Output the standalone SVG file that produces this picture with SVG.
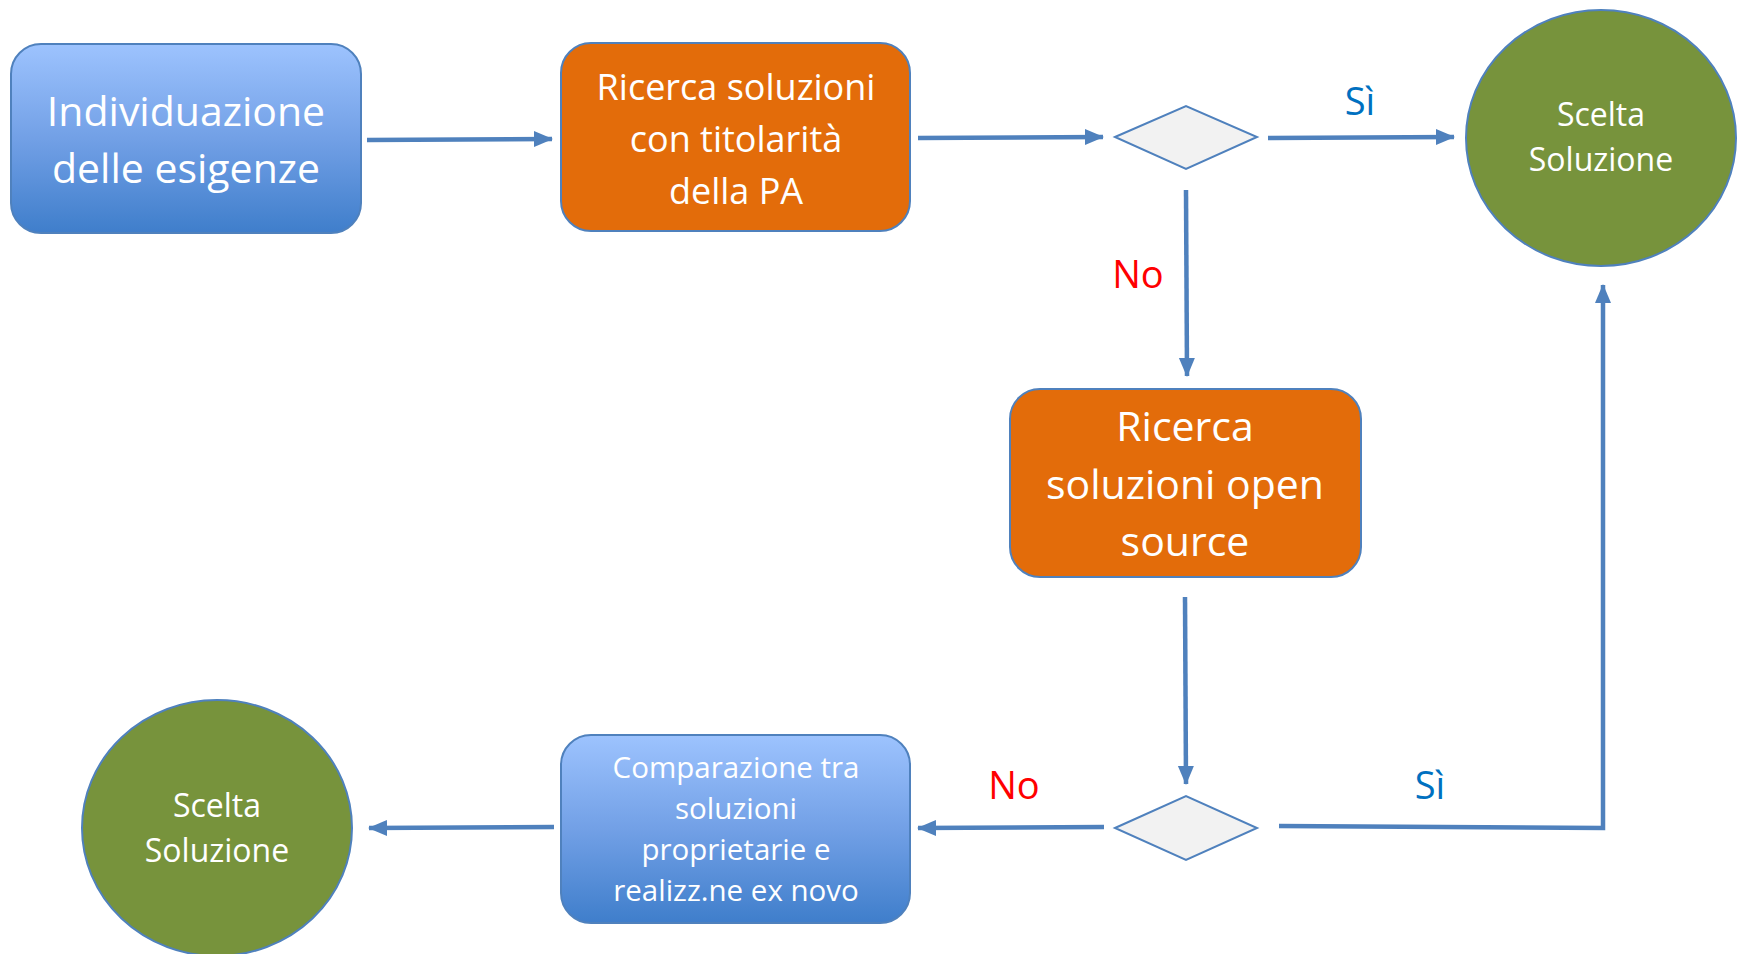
<svg xmlns="http://www.w3.org/2000/svg" width="1743" height="954" viewBox="0 0 1743 954">
<defs>
<linearGradient id="blueGrad" x1="0" y1="0" x2="0" y2="1">
<stop offset="0" stop-color="#9DC3FE"/>
<stop offset="0.5" stop-color="#72A0E6"/>
<stop offset="1" stop-color="#3F7ECB"/>
</linearGradient>
<marker id="arr" markerUnits="userSpaceOnUse" markerWidth="20" markerHeight="18" refX="18" refY="9" orient="auto">
<path d="M0,1 L19,9 L0,17 Z" fill="#4F81BD"/>
</marker>
<style>
.box{stroke:#4F81BD;stroke-width:2}
.blue{fill:url(#blueGrad)}
.orange{fill:#E36C0A}
.green{fill:#77933C;stroke:#4F81BD;stroke-width:2}
.dia{fill:#F2F2F2;stroke:#4F81BD;stroke-width:2}
.t{font-family:"Open Sans","Noto Sans","Liberation Sans",sans-serif;fill:#FFFFFF;text-anchor:middle}
.conn{fill:none;stroke:#4F81BD;stroke-width:4.5}
.lbl{font-family:"Open Sans","Noto Sans","Liberation Sans",sans-serif;text-anchor:middle;font-size:38px}
.si{fill:#0070C0}
.no{fill:#FF0000}
</style>
</defs>
<rect width="1743" height="954" fill="#FFFFFF"/>

<g id="connectors">
<line class="conn" x1="367" y1="140" x2="552" y2="139" marker-end="url(#arr)"/>
<line class="conn" x1="918" y1="138" x2="1103" y2="137" marker-end="url(#arr)"/>
<line class="conn" x1="1268" y1="138" x2="1454" y2="137" marker-end="url(#arr)"/>
<line class="conn" x1="1186" y1="190" x2="1187" y2="376" marker-end="url(#arr)"/>
<line class="conn" x1="1185" y1="597" x2="1186" y2="784" marker-end="url(#arr)"/>
<polyline class="conn" points="1279,826 1603,828 1603,285" marker-end="url(#arr)"/>
<line class="conn" x1="1104" y1="827" x2="918" y2="828" marker-end="url(#arr)"/>
<line class="conn" x1="554" y1="827" x2="369" y2="828" marker-end="url(#arr)"/>
<text class="lbl si" x="1360" y="115">Sì</text>
<text class="lbl no" x="1138" y="288">No</text>
<text class="lbl si" x="1430" y="799">Sì</text>
<text class="lbl no" x="1014" y="799">No</text>
</g>

<g id="n1">
<rect class="box blue" x="11" y="44" width="350" height="189" rx="30"/>
<text class="t" font-size="41" x="186" y="126">Individuazione</text>
<text class="t" font-size="41" x="186" y="183">delle esigenze</text>
</g>

<g id="n2">
<rect class="box orange" x="561" y="43" width="349" height="188" rx="30"/>
<text class="t" font-size="36" x="736" y="100">Ricerca soluzioni</text>
<text class="t" font-size="36" x="736" y="152">con titolarità</text>
<text class="t" font-size="36" x="736" y="204">della PA</text>
</g>

<g id="d1">
<polygon class="dia" points="1115,137 1186,106 1257,137 1186,169"/>
</g>

<g id="c1">
<ellipse class="green" cx="1601" cy="138" rx="135" ry="128"/>
<text class="t" font-size="32" x="1601" y="126">Scelta</text>
<text class="t" font-size="32" x="1601" y="171">Soluzione</text>
</g>

<g id="n3">
<rect class="box orange" x="1010" y="389" width="351" height="188" rx="30"/>
<text class="t" font-size="41" x="1185" y="441">Ricerca</text>
<text class="t" font-size="41" x="1185" y="499">soluzioni open</text>
<text class="t" font-size="41" x="1185" y="556">source</text>
</g>

<g id="d2">
<polygon class="dia" points="1115,828 1186,796 1257,828 1186,860"/>
</g>

<g id="n4">
<rect class="box blue" x="561" y="735" width="349" height="188" rx="30"/>
<text class="t" font-size="29.5" x="736" y="778">Comparazione tra</text>
<text class="t" font-size="29.5" x="736" y="819">soluzioni</text>
<text class="t" font-size="29.5" x="736" y="860">proprietarie e</text>
<text class="t" font-size="29.5" x="736" y="901">realizz.ne ex novo</text>
</g>

<g id="c2">
<ellipse class="green" cx="217" cy="828" rx="135" ry="128"/>
<text class="t" font-size="32" x="217" y="817">Scelta</text>
<text class="t" font-size="32" x="217" y="862">Soluzione</text>
</g>
</svg>
